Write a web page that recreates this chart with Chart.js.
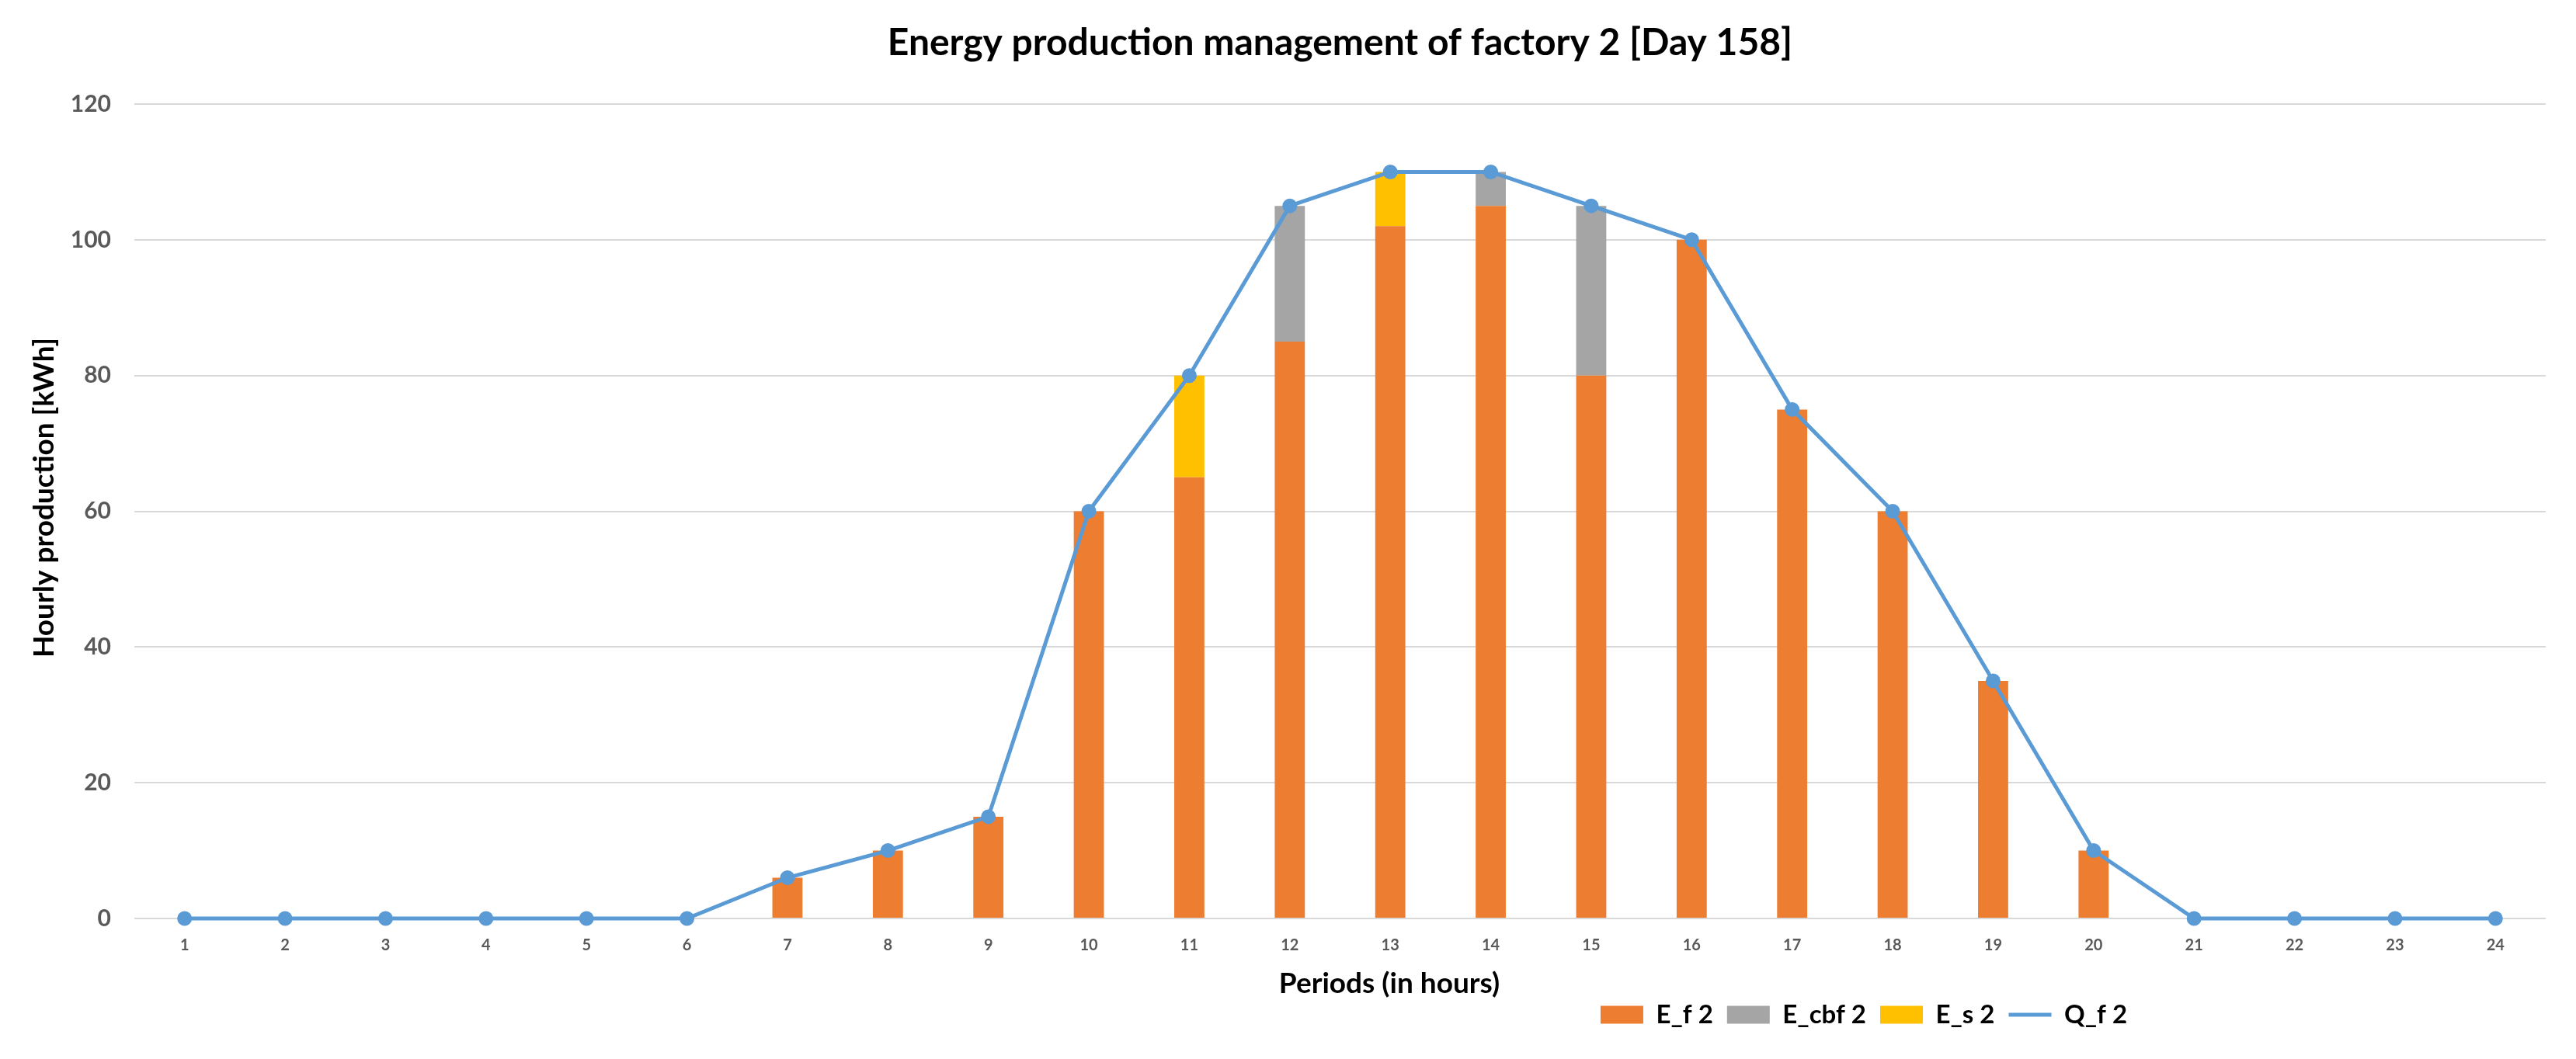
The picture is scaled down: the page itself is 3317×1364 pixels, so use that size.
<!DOCTYPE html>
<html>
<head>
<meta charset="utf-8">
<script src="https://cdn.jsdelivr.net/npm/chart.js@4.4.1/dist/chart.umd.min.js"></script>
<style>
  html, body { margin: 0; padding: 0; background: #ffffff; }
  #wrap { width: 3317px; height: 1364px; }
</style>
</head>
<body>
<div id="wrap"><canvas id="c" width="3317" height="1364"></canvas></div>
<script>
const hours = ['1','2','3','4','5','6','7','8','9','10','11','12','13','14','15','16','17','18','19','20','21','22','23','24'];
const E_f2   = [0,0,0,0,0,0,6,10,15,60,65,85,102,105,80,100,75,60,35,10,0,0,0,0];
const E_cbf2 = [0,0,0,0,0,0,0,0,0,0,0,20,0,5,25,0,0,0,0,0,0,0,0,0];
const E_s2   = [0,0,0,0,0,0,0,0,0,0,15,0,8,0,0,0,0,0,0,0,0,0,0,0];
const Q_f2   = [0,0,0,0,0,0,6,10,15,60,80,105,110,110,105,100,75,60,35,10,0,0,0,0];
const yTicks = [0,20,40,60,80,100,120];

const FONT = 'Lato, "Open Sans", sans-serif';

// Moves the legend and the axis titles to where the reference has them
const placeBoxes = {
  id: 'placeBoxes',
  afterLayout(chart) {
    const L = chart.legend;
    if (L) {
      const targetX = 2400, targetY = 1307;
      const p = L.options.labels.padding;
      const fs = L.options.labels.font.size;
      const dx = targetX - (L.left + L.right) / 2;
      const dy = targetY - (L.top + p + fs / 2);
      L.left += dx; L.right += dx; L.top += dy; L.bottom += dy;
    }
  },
  beforeDraw(chart) {
    const xs = chart.scales.x, ys = chart.scales.y;
    this._saved = { xl: xs.left, xr: xs.right, yt: ys.top, yb: ys.bottom };
    const xdx = 1789 - (xs.left + xs.right) / 2;
    xs.left += xdx; xs.right += xdx;
    const ydy = 641 - (ys.top + ys.bottom) / 2;
    ys.top += ydy; ys.bottom += ydy;
  },
  beforeDatasetsDraw(chart) {
    const s = this._saved;
    if (!s) return;
    const xs = chart.scales.x, ys = chart.scales.y;
    xs.left = s.xl; xs.right = s.xr; ys.top = s.yt; ys.bottom = s.yb;
    this._saved = null;
  }
};

new Chart(document.getElementById('c'), {
  type: 'bar',
  data: {
    labels: hours,
    datasets: [
      { label: 'E_f 2', data: E_f2, backgroundColor: '#ED7D31', stack: 'bars', order: 1, pointStyle: 'rect',
        categoryPercentage: 1, barPercentage: 0.3, borderWidth: 0 },
      { label: 'E_cbf 2', data: E_cbf2, backgroundColor: '#A5A5A5', stack: 'bars', order: 1, pointStyle: 'rect',
        categoryPercentage: 1, barPercentage: 0.3, borderWidth: 0 },
      { label: 'E_s 2', data: E_s2, backgroundColor: '#FFC000', stack: 'bars', order: 1, pointStyle: 'rect',
        categoryPercentage: 1, barPercentage: 0.3, borderWidth: 0 },
      { type: 'line', label: 'Q_f 2', data: Q_f2, borderColor: '#5B9BD5', backgroundColor: '#5B9BD5',
        borderWidth: 5, pointRadius: 7, pointHoverRadius: 7, pointStyle: 'circle', stack: 'line', order: 0,
        tension: 0, fill: false, clip: false }
    ]
  },
  options: {
    responsive: false,
    animation: false,
    devicePixelRatio: 1,
    layout: { padding: { left: 0, right: 39, top: 0, bottom: 17.5 } },
    plugins: {
      title: {
        display: true,
        fullSize: false,
        text: 'Energy production management of factory 2 [Day 158]',
        color: '#000000',
        font: { family: FONT, size: 48, weight: 'bold', lineHeight: 1.2 },
        padding: { top: 27, bottom: 49.4 }
      },
      legend: {
        position: 'bottom',
        align: 'center',
        labels: {
          color: '#000000',
          font: { family: FONT, size: 33, weight: 'bold' },
          usePointStyle: true,
          pointStyleWidth: 55,
          boxHeight: 23,
          padding: 18,
          sort: (a, b) => a.datasetIndex - b.datasetIndex,
          generateLabels(chart) {
            const items = Chart.defaults.plugins.legend.labels.generateLabels(chart);
            items.forEach(it => {
              if (it.datasetIndex === 3) { it.pointStyle = 'line'; it.lineWidth = 5; it.strokeStyle = '#5B9BD5'; }
              else { it.lineWidth = 0; }
            });
            return items;
          }
        }
      },
      tooltip: { enabled: false }
    },
    scales: {
      x: {
        stacked: true,
        grid: { display: false, drawTicks: false },
        border: { display: false },
        ticks: { color: '#595959', font: { family: FONT, size: 20, weight: 'bold', lineHeight: 1.0 }, padding: 25, maxRotation: 0, autoSkip: false },
        title: { display: true, text: 'Periods (in hours)', color: '#000000',
          font: { family: FONT, size: 37, weight: 'bold', lineHeight: 1.0 }, padding: { top: -4.5, bottom: 0 } }
      },
      y: {
        stacked: true,
        min: 0, max: 120,
        afterBuildTicks(scale) { scale.ticks = yTicks.map(v => ({ value: v })); },
        afterFit(scale) { scale.width = 173; },
        grid: { color: '#D9D9D9', lineWidth: 2, drawTicks: false },
        border: { display: false },
        ticks: { color: '#595959', font: { family: FONT, size: 30, weight: 'bold' }, padding: 30 },
        title: { display: true, text: 'Hourly production [kWh]', color: '#000000',
          font: { family: FONT, size: 37, weight: 'bold', lineHeight: 1.2 }, padding: { top: 35, bottom: 0 } }
      }
    }
  },
  plugins: [placeBoxes]
});
</script>
</body>
</html>
